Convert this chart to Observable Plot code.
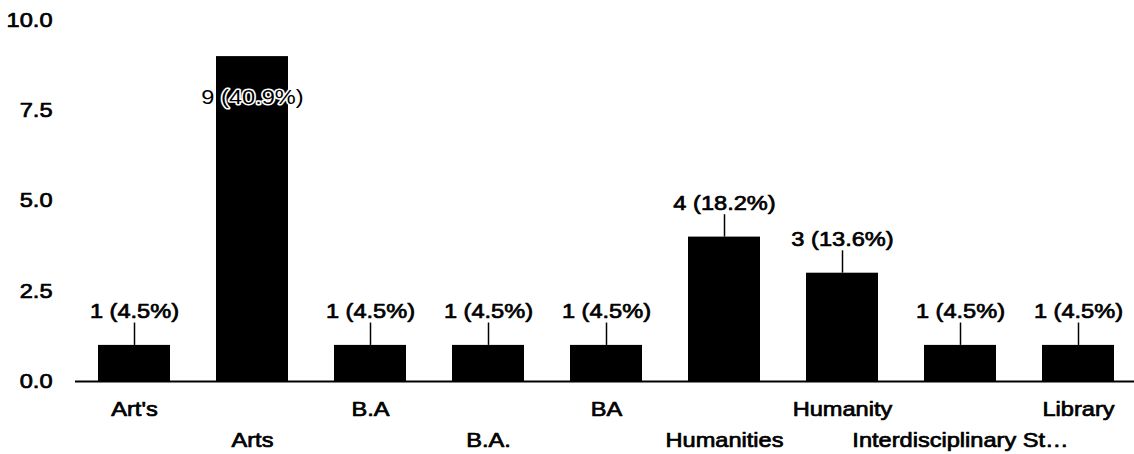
<!DOCTYPE html>
<html><head><meta charset="utf-8">
<script src="https://cdn.jsdelivr.net/npm/d3@7"></script>
<script src="https://cdn.jsdelivr.net/npm/@observablehq/plot@0.6"></script>
<style>
html,body{margin:0;padding:0;background:#fff}
svg{font-family:"Liberation Sans",Arial,sans-serif}
</style>
</head><body><div id="chart"></div>
<script>
const categories = ["Art's","Arts","B.A","B.A.","BA","Humanities","Humanity","Interdisciplinary St…","Library"];
const counts = [1,9,1,1,1,4,3,1,1];
const percents = [4.5,40.9,4.5,4.5,4.5,18.2,13.6,4.5,4.5];
const yTicks = [0,2.5,5,7.5,10];

const data = categories.map((c,i)=>({category:c,count:counts[i],pct:percents[i],row:i%2}));
const label = d => `${d.count} (${d.pct}%)`;
const outside = data.filter(d=>d.count<8);
const inside = data.filter(d=>d.count>=8);
const FS = 20;
const ink = {fontSize:FS, fill:"#000", stroke:"#000", strokeWidth:0.7};

const chart = Plot.plot({
  width:1134, height:454,
  marginTop:20, marginBottom:73, marginLeft:75, marginRight:0,
  style:{background:"#fff", fontFamily:"Liberation Sans, Arial, sans-serif", color:"#000"},
  x:{domain:categories, range:[73,1138], paddingInner:0.39, paddingOuter:0.195, axis:null},
  y:{domain:[0,10], axis:null},
  marks:[
    Plot.barY(data,{x:"category",y:"count",fill:"#000"}),
    Plot.ruleY([0],{stroke:"#000",strokeWidth:2}),
    Plot.ruleX(outside,{x:"category",y1:"count",y2:d=>d.count+0.62,stroke:"#000",strokeWidth:1.5}),
    Plot.text(outside,{x:"category",y:"count",text:label,dy:-34,...ink}),
    Plot.text(inside,{x:"category",y:"count",text:label,dy:41,fontSize:FS,fill:"#000",stroke:"#fff",strokeWidth:3}),
    Plot.text(data.filter(d=>d.row===0),{x:"category",y:0,text:"category",dy:28,...ink}),
    Plot.text(data.filter(d=>d.row===1),{x:"category",y:0,text:"category",dy:59,...ink}),
    Plot.text(yTicks,{y:d=>d,text:d=>d.toFixed(1),frameAnchor:"left",textAnchor:"end",dx:-23,...ink})
  ]
});

// widen glyphs horizontally to match the reference's stretched lettering
const SX = 1.18;
d3.select(chart).selectAll("text").each(function(){
  let x = parseFloat(this.getAttribute("x"));
  if (!isFinite(x)) x = 0;
  const t = this.getAttribute("transform")||"";
  this.setAttribute("transform", `${t} translate(${x},0) scale(${SX},1) translate(${-x},0)`.trim());
});
document.getElementById("chart").append(chart);
</script>
</body></html>
